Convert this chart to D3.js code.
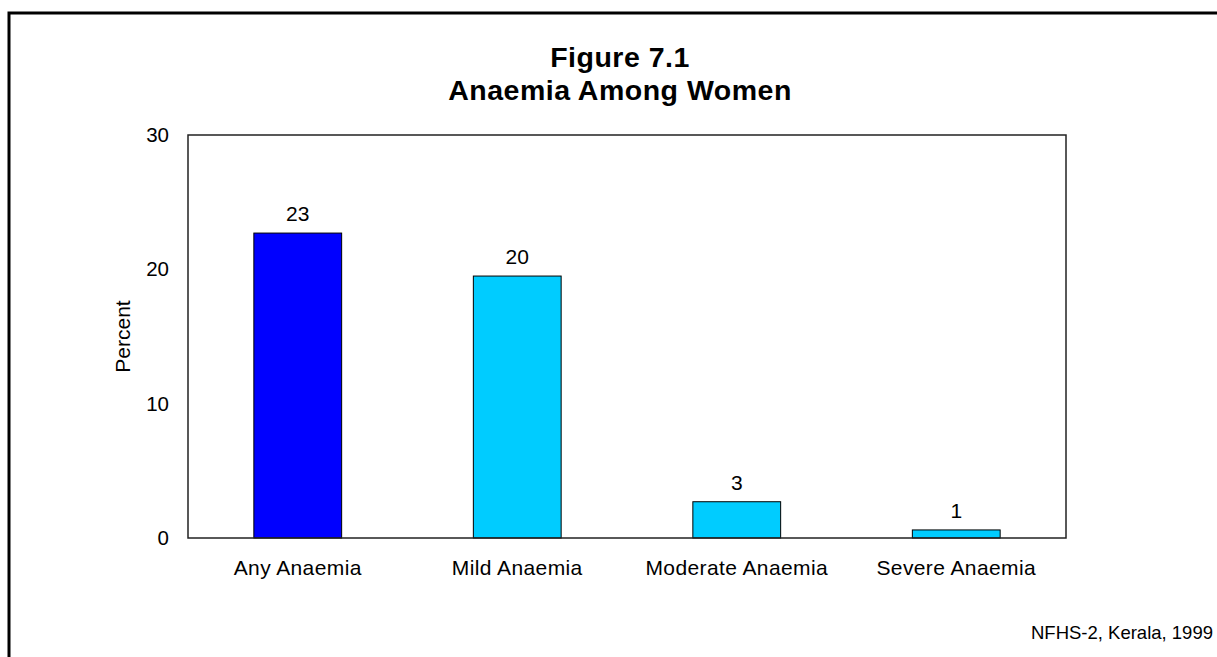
<!DOCTYPE html>
<html>
<head>
<meta charset="utf-8">
<script src="https://cdn.jsdelivr.net/npm/d3@7"></script>
<style>
  html, body { margin: 0; padding: 0; background: #fff; }
  svg { display: block; font-family: "Liberation Sans", Arial, sans-serif; }
</style>
</head>
<body>
<svg id="chart" width="1217" height="657"></svg>
<script>
// Anaemia among women, NFHS-2 Kerala
const categories = ["Any Anaemia", "Mild Anaemia", "Moderate Anaemia", "Severe Anaemia"];
const values = [22.7, 19.5, 2.7, 0.6];
const barColors = ["#0000ff", "#00ccff", "#00ccff", "#00ccff"];
const yTicks = [0, 10, 20, 30];
const titleLines = ["Figure 7.1", "Anaemia Among Women"];
const yTitle = "Percent";
const sourceNote = "NFHS-2, Kerala, 1999";

const svg = d3.select("#chart");
const W = 1217, H = 657;
const plot = { left: 188, right: 1066, top: 135, bottom: 538 };

// outer frame (open to the right and bottom edges)
svg.append("path")
  .attr("d", `M9,${H} L9,13 L${W},13`)
  .attr("fill", "none")
  .attr("stroke", "#000")
  .attr("stroke-width", 3);

const x = d3.scaleBand()
  .domain(categories)
  .range([plot.left, plot.right])
  .paddingInner(0.6)
  .paddingOuter(0.3);

const y = d3.scaleLinear()
  .domain([0, 30])
  .range([plot.bottom, plot.top]);

// title
const title = svg.append("text")
  .attr("text-anchor", "middle")
  .attr("font-weight", "bold")
  .attr("font-size", 28.5)
  .attr("letter-spacing", 0.5)
  .attr("fill", "#000");
titleLines.forEach((t, i) => {
  title.append("tspan")
    .attr("x", 620)
    .attr("y", 67 + i * 33)
    .text(t);
});

// bars
svg.append("g")
  .selectAll("rect")
  .data(values)
  .join("rect")
  .attr("x", (d, i) => x(categories[i]))
  .attr("y", d => y(d))
  .attr("width", x.bandwidth())
  .attr("height", d => y(0) - y(d))
  .attr("fill", (d, i) => barColors[i])
  .attr("stroke", "#000")
  .attr("stroke-width", 1);

// value labels
const fmt = d3.format(".0f");
svg.append("g")
  .selectAll("text")
  .data(values)
  .join("text")
  .attr("x", (d, i) => x(categories[i]) + x.bandwidth() / 2)
  .attr("y", d => y(d) - 12)
  .attr("text-anchor", "middle")
  .attr("font-size", 21)
  .attr("fill", "#000")
  .text(d => fmt(d));

// plot frame
svg.append("rect")
  .attr("x", plot.left)
  .attr("y", plot.top)
  .attr("width", plot.right - plot.left)
  .attr("height", plot.bottom - plot.top)
  .attr("fill", "none")
  .attr("stroke", "#222")
  .attr("stroke-width", 1.5);

// y axis labels
const yAxis = d3.axisLeft(y).tickValues(yTicks).tickSize(0).tickPadding(19).tickFormat(d3.format("d"));
const gy = svg.append("g")
  .attr("transform", `translate(${plot.left},0)`)
  .call(yAxis);
gy.select(".domain").remove();
gy.selectAll("text")
  .attr("font-size", 20.5)
  .attr("font-family", "Liberation Sans, Arial, sans-serif")
  .attr("fill", "#000");

// x axis labels
const xAxis = d3.axisBottom(x).tickSize(0).tickPadding(22);
const gx = svg.append("g")
  .attr("transform", `translate(0,${plot.bottom})`)
  .call(xAxis);
gx.select(".domain").remove();
gx.selectAll("text")
  .attr("font-size", 21)
  .attr("letter-spacing", 0.4)
  .attr("font-family", "Liberation Sans, Arial, sans-serif")
  .attr("fill", "#000");

// y axis title
svg.append("text")
  .attr("transform", `translate(130,${(plot.top + plot.bottom) / 2}) rotate(-90)`)
  .attr("text-anchor", "middle")
  .attr("font-size", 21)
  .attr("fill", "#000")
  .text(yTitle);

// source note
svg.append("text")
  .attr("x", 1213)
  .attr("y", 639)
  .attr("text-anchor", "end")
  .attr("font-size", 18.5)
  .attr("fill", "#000")
  .text(sourceNote);
</script>
</body>
</html>
